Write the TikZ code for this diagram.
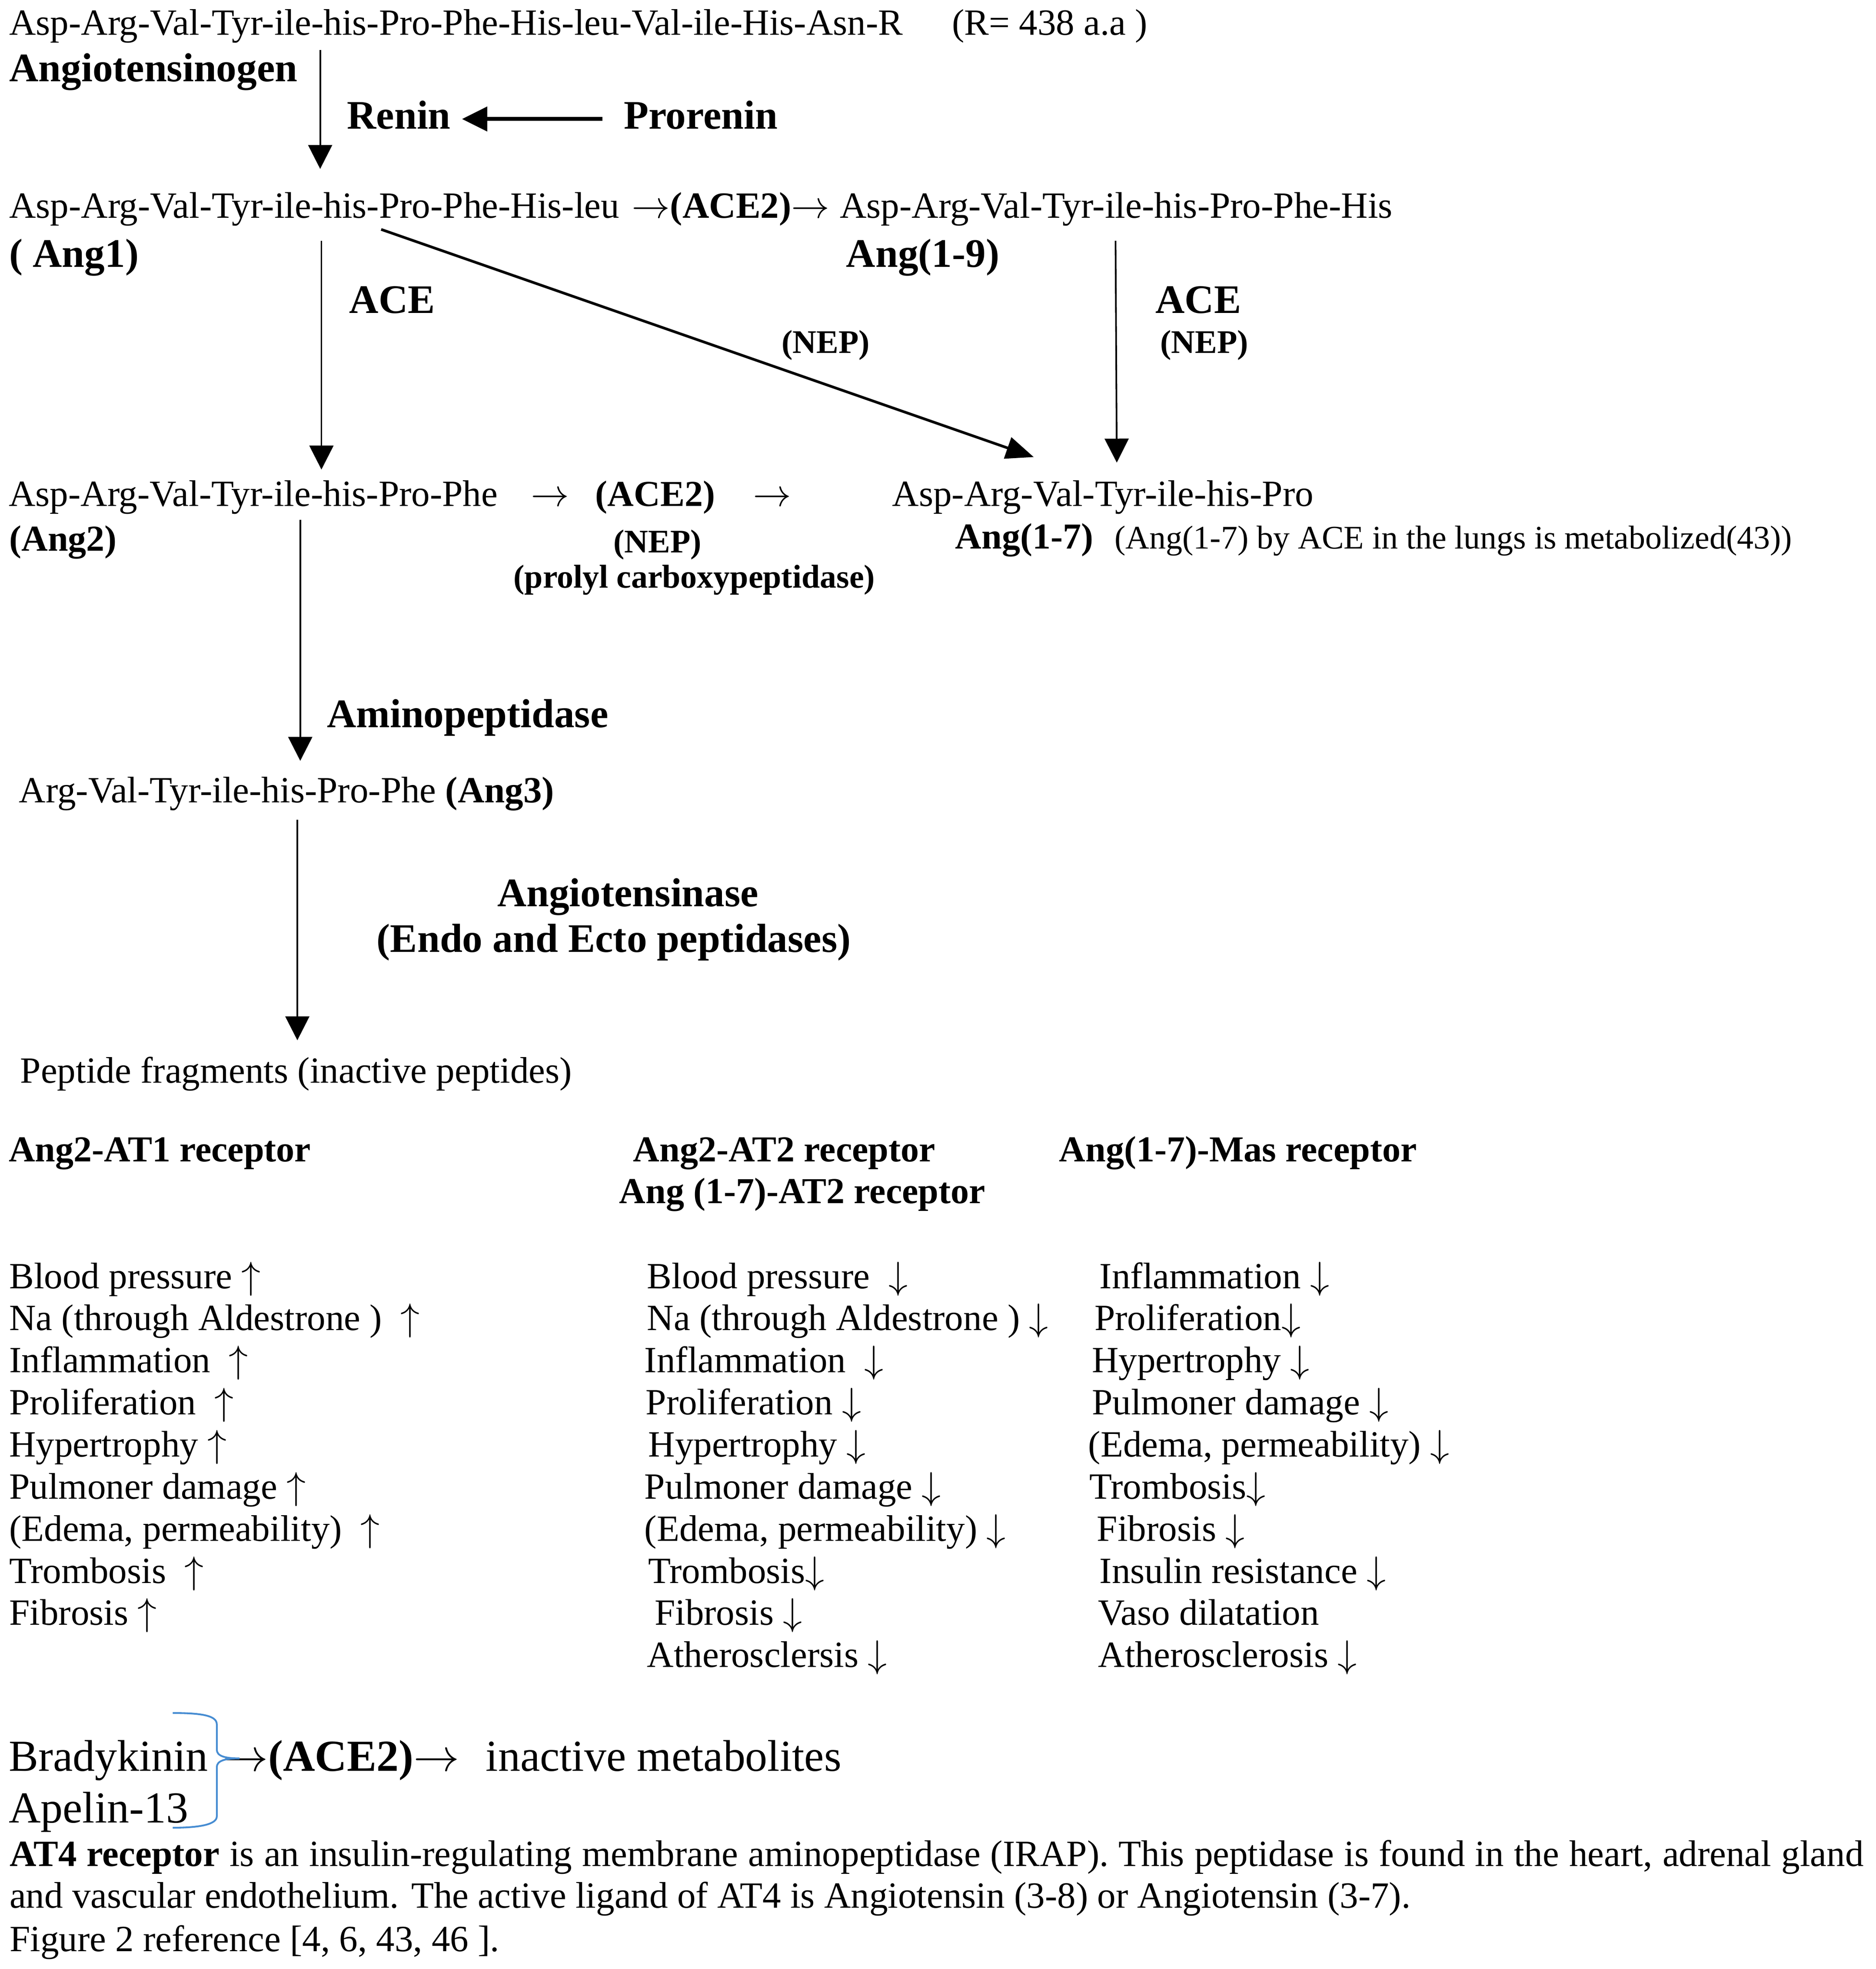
\documentclass[tikz,border=0pt]{standalone}
\usepackage{fontspec}
\setmainfont{Liberation Serif}
\usepackage{xcolor}
\usepackage{tikz}
\usetikzlibrary{arrows.meta}
\definecolor{braceblue}{RGB}{70,140,210}
\newcommand{\ra}{$\rightarrow$}
\newcommand{\up}{\smash{$\uparrow$}}
\newcommand{\dn}{\smash{$\downarrow$}}

\begin{document}
\begin{tikzpicture}[x=0.02cm, y=-0.02cm,
	every node/.style={inner sep=0pt, anchor=base west},
	seq/.style={font=\fontsize{16.7}{19}\selectfont},
	lab/.style={font=\bfseries\fontsize{18.3}{22}\selectfont},
	head/.style={font=\bfseries\fontsize{16.5}{19}\selectfont},
	note/.style={font=\fontsize{14.9}{18}\selectfont},
	enz/.style={font=\bfseries\fontsize{14.9}{18}\selectfont, anchor=base},
	big/.style={font=\fontsize{20}{24}\selectfont},
	flow/.style={line width=0.75pt, -{Triangle[length=10.8pt, width=10.8pt]}},
	cut/.style={line width=1.2pt, -{Triangle[length=12.5pt, width=10pt]}},
	push/.style={line width=1.8pt, -{Triangle[length=11.4pt, width=10.8pt]}}]
	\fill[white] (0,0) rectangle (1488.3,1562.1);
	% cascade
	\node[seq] (agt) at (7,27.7) {Asp-Arg-Val-Tyr-ile-his-Pro-Phe-His-leu-Val-ile-His-Asn-R};
	\node[seq] (rlen) at (755,27.7) {(R= 438 a.a )};
	\node[lab] (agtname) at (7,64.5) {Angiotensinogen};
	\node[lab] (renin) at (275,102.4) {Renin};
	\node[lab] (prorenin) at (494.5,102.4) {Prorenin};
	\node[seq] (ang1) at (7,172.8) {Asp-Arg-Val-Tyr-ile-his-Pro-Phe-His-leu};
	\node[seq] (ace2a) at (501,172.8) {\ra\textbf{(ACE2)}\ra};
	\node[seq] (ang9) at (666,172.8) {Asp-Arg-Val-Tyr-ile-his-Pro-Phe-His};
	\node[lab] (ang1name) at (7,212) {( Ang1)};
	\node[lab] (ang9name) at (671,212) {Ang(1-9)};
	\node[lab] (acea) at (276.8,248.6) {ACE};
	\node[lab] (aceb) at (916.4,248.6) {ACE};
	\node[enz] (nepa) at (655,280.2) {(NEP)};
	\node[enz] (nepb) at (955.4,280.2) {(NEP)};
	\node[seq] (ang2) at (6.6,401.5) {Asp-Arg-Val-Tyr-ile-his-Pro-Phe};
	\node[seq] (ar1) at (421,401.5) {\ra};
	\node[head] (ace2b) at (472,401.5) {(ACE2)};
	\node[seq] (ar2) at (597,401.5) {\ra};
	\node[seq] (ang7) at (707.5,401.5) {Asp-Arg-Val-Tyr-ile-his-Pro};
	\node[head] (ang2name) at (7,437) {(Ang2)};
	\node[enz] (nepc) at (521.6,438.5) {(NEP)};
	\node[enz] (pcp) at (550.8,466.5) {(prolyl carboxypeptidase)};
	\node[head] (ang7name) at (757.5,435.5) {Ang(1-7)};
	\node[note] (lung) at (884,435.5) {(Ang(1-7) by ACE in the lungs is metabolized(43))};
	\node[lab] (amino) at (259,577.2) {Aminopeptidase};
	\node[seq] (ang3) at (14.8,636.6) {Arg-Val-Tyr-ile-his-Pro-Phe \textbf{(Ang3)}};
	\node[lab] (atase) at (394.2,719.1) {Angiotensinase};
	\node[lab] (endo) at (298.6,755.4) {(Endo and Ecto peptidases)};
	\node[seq] (frag) at (15.8,859.3) {Peptide fragments (inactive peptides)};
	% arrows
	\coordinate (agt-out) at (254,39.6);
	\coordinate (ang1-in) at (254,134);
	\coordinate (ang1-out) at (255,191);
	\coordinate (ang2-in) at (255,372.5);
	\coordinate (ang9-out) at (885,191);
	\coordinate (ang7-in) at (886,367);
	\coordinate (ang1-diag) at (302.4,182);
	\coordinate (ang7-diag) at (820.1,362.6);
	\coordinate (ang2-out) at (238.2,412.3);
	\coordinate (ang3-in) at (238.2,603.6);
	\coordinate (ang3-out) at (235.9,650.5);
	\coordinate (frag-in) at (235.9,825.3);
	\coordinate (pro-out) at (478,94.4);
	\coordinate (ren-in) at (366.5,94.4);
	\draw[flow] (agt-out) -- (ang1-in);
	\draw[push] (pro-out) -- (ren-in);
	\draw[flow] (ang1-out) -- (ang2-in);
	\draw[flow] (ang9-out) -- (ang7-in);
	\draw[cut] (ang1-diag) -- (ang7-diag);
	\draw[flow] (ang2-out) -- (ang3-in);
	\draw[flow] (ang3-out) -- (frag-in);
	% receptors
	\node[head] (at1) at (6.6,921.5) {Ang2-AT1 receptor};
	\node[head] (at2) at (502,921.5) {Ang2-AT2 receptor};
	\node[head] (at2b) at (491,954.5) {Ang (1-7)-AT2 receptor};
	\node[head] (mas) at (840,921.5) {Ang(1-7)-Mas receptor};
	\node[seq] (at1a) at (7,1022.1) {Blood pressure \up};
	\node[seq] (at1b) at (7,1055.5) {Na (through Aldestrone )~ \up};
	\node[seq] (at1c) at (7,1088.9) {Inflammation~ \up};
	\node[seq] (at1d) at (7,1122.3) {Proliferation~ \up};
	\node[seq] (at1e) at (7,1155.7) {Hypertrophy \up};
	\node[seq] (at1f) at (7,1189.1) {Pulmoner damage \up};
	\node[seq] (at1g) at (7,1222.5) {(Edema, permeability)~ \up};
	\node[seq] (at1h) at (7,1255.9) {Trombosis~ \up};
	\node[seq] (at1i) at (7,1289.3) {Fibrosis \up};
	\node[seq] (at2a) at (513,1022.1) {Blood pressure~ \dn};
	\node[seq] (at2c) at (513,1055.5) {Na (through Aldestrone ) \dn};
	\node[seq] (at2d) at (511,1088.9) {Inflammation~ \dn};
	\node[seq] (at2e) at (512,1122.3) {Proliferation \dn};
	\node[seq] (at2f) at (514,1155.7) {Hypertrophy \dn};
	\node[seq] (at2g) at (511,1189.1) {Pulmoner damage \dn};
	\node[seq] (at2h) at (511,1222.5) {(Edema, permeability) \dn};
	\node[seq] (at2i) at (514,1255.9) {Trombosis\dn};
	\node[seq] (at2j) at (519,1289.3) {Fibrosis \dn};
	\node[seq] (at2k) at (513,1322.7) {Atherosclersis \dn};
	\node[seq] (masa) at (872,1022.1) {Inflammation \dn};
	\node[seq] (masb) at (868,1055.5) {Proliferation\dn};
	\node[seq] (masc) at (866,1088.9) {Hypertrophy \dn};
	\node[seq] (masd) at (866,1122.3) {Pulmoner damage \dn};
	\node[seq] (mase) at (863,1155.7) {(Edema, permeability) \dn};
	\node[seq] (masf) at (864,1189.1) {Trombosis\dn};
	\node[seq] (masg) at (870,1222.5) {Fibrosis \dn};
	\node[seq] (mash) at (872,1255.9) {Insulin resistance \dn};
	\node[seq] (masi) at (871,1289.3) {Vaso dilatation};
	\node[seq] (masj) at (871,1322.7) {Atherosclerosis \dn};
	% other substrates
	\node[big] (brady) at (6.6,1405) {Bradykinin};
	\node[big] (apelin) at (6.6,1446) {Apelin-13};
	\node[big] (ace2c) at (176,1405) {\ra\textbf{(ACE2)}\ra\hspace{0.6em}inactive metabolites};
	\draw[braceblue, line width=0.8pt] (137,1359) .. controls (160,1359) and (172,1361) .. (172,1368)
		-- (172,1388) .. controls (172,1393) and (178,1395) .. (190,1395)
		.. controls (178,1395) and (172,1397) .. (172,1402)
		-- (172,1441) .. controls (172,1447) and (160,1450) .. (137,1450);
	\node[seq] (at4) at (7.3,1480.5) {\hbox to 29.42cm{\textbf{AT4 receptor} is an insulin-regulating membrane aminopeptidase (IRAP). This peptidase is found in the heart, adrenal gland}};
	\node[seq] (at4b) at (7.3,1513.5) {and vascular endothelium. The active ligand of AT4 is Angiotensin (3-8) or Angiotensin (3-7).};
	\node[seq] (fig) at (7.3,1548) {Figure 2 reference [4, 6, 43, 46 ].};
\end{tikzpicture}
\end{document}
